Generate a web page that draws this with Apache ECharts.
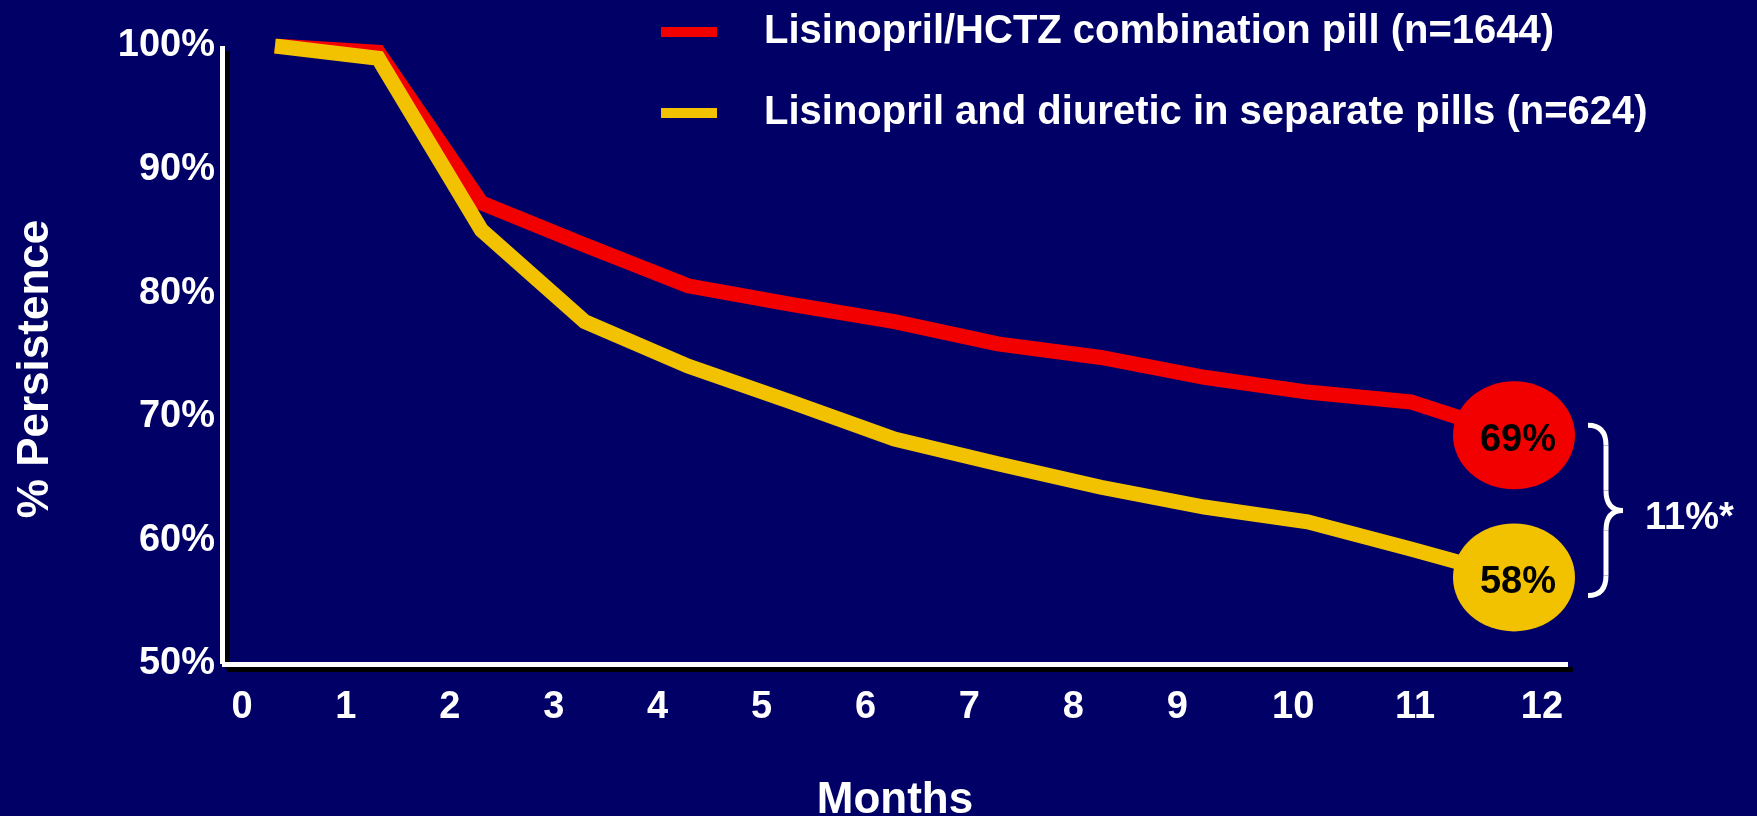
<!DOCTYPE html>
<html>
<head>
<meta charset="utf-8">
<script src="https://cdn.jsdelivr.net/npm/echarts@6/dist/echarts.min.js"></script>
<style>
  html, body { margin: 0; padding: 0; background: #000066; }
  #chart { width: 1757px; height: 816px; }
</style>
</head>
<body>
<div id="chart"></div>
<script>
// ---- data ----
const seriesNames = [
  'Lisinopril/HCTZ combination pill (n=1644)',
  'Lisinopril and diuretic in separate pills (n=624)'
];
const months = [0, 1, 2, 3, 4, 5, 6, 7, 8, 9, 10, 11, 12];
const comboPill = [100, 99.5, 87.3, 83.9, 80.6, 79.1, 77.7, 75.9, 74.8, 73.2, 72.0, 71.2, 68.5];
const separatePills = [100, 99.0, 85.1, 77.7, 74.1, 71.2, 68.2, 66.2, 64.3, 62.7, 61.5, 59.3, 57.0];
const finalPct = [69, 58];
const xTickLabels = ['0', '1', '2', '3', '4', '5', '6', '7', '8', '9', '10', '11', '12'];

// ---- style ----
const FONT = '"Liberation Sans", Arial, Helvetica, sans-serif';
const RED = '#f20000';
const YELLOW = '#f2c200';
const txtShadow = { textShadowColor: '#000', textShadowOffsetX: 3, textShadowOffsetY: 3, textShadowBlur: 0 };
const axisLineStyle = { color: '#fff', width: 5, shadowColor: '#000', shadowOffsetX: 5, shadowOffsetY: 5, shadowBlur: 0, cap: 'butt' };
const baseLabel = Object.assign({ color: '#fff', fontSize: 38, fontWeight: 'bold', fontFamily: FONT }, txtShadow);
const labelNudge = { 10: 24, 11: 60, 12: 106 };
const rich = {};
Object.keys(labelNudge).forEach(k => {
  rich['n' + k] = Object.assign({}, baseLabel, { padding: [0, 0, 0, labelNudge[k]] });
});
const lastIdx = months.length - 1;

const chart = echarts.init(document.getElementById('chart'), null, { renderer: 'canvas' });

function lineSeries(idx, values, color, z) {
  return {
    name: seriesNames[idx],
    type: 'line',
    xAxisIndex: 0,
    yAxisIndex: 0,
    z: z,
    data: months.map((m, i) => [m, values[i]]),
    lineStyle: { color: color, width: 15, cap: 'butt', join: 'miter' },
    itemStyle: { color: color, borderWidth: 0 },
    symbol: 'circle',
    showSymbol: true,
    showAllSymbol: true,
    symbolSize: (v, p) => (p.dataIndex === lastIdx ? [122, 108] : 0),
    label: {
      show: true,
      position: 'inside',
      formatter: p => (p.dataIndex === lastIdx ? finalPct[idx] + '%' : ''),
      color: '#000',
      fontSize: 38,
      fontWeight: 'bold',
      fontFamily: FONT,
      offset: [4, 5]
    },
    emphasis: { disabled: true }
  };
}

chart.setOption({
  backgroundColor: '#000066',
  animation: false,
  grid: [
    { left: 222, right: 189, top: 46, bottom: 152, containLabel: false, outerBoundsMode: 'none' },
    { left: 242, right: 268, top: 46, bottom: 152, containLabel: false, outerBoundsMode: 'none' }
  ],
  legend: {
    orient: 'vertical',
    left: 656,
    top: 5,
    itemWidth: 56,
    itemHeight: 10,
    itemGap: 37,
    icon: 'rect',
    selectedMode: false,
    itemStyle: { borderWidth: 0 },
    textStyle: Object.assign({ color: '#fff', fontSize: 40, fontWeight: 'bold', fontFamily: FONT, lineHeight: 44, padding: [0, 0, 0, 42] }, txtShadow),
    data: seriesNames
  },
  xAxis: [
    {
      gridIndex: 0, type: 'value', min: -0.513, max: 12.523,
      axisLine: { show: true, onZero: false, lineStyle: axisLineStyle },
      axisTick: { show: false }, axisLabel: { show: false }, splitLine: { show: false },
      name: 'Months', nameLocation: 'middle', nameGap: 115,
      nameTextStyle: Object.assign({ color: '#fff', fontSize: 44, fontWeight: 'bold', fontFamily: FONT }, txtShadow)
    },
    {
      gridIndex: 1, type: 'value', min: 0, max: 12, interval: 1,
      axisLine: { show: false }, axisTick: { show: false }, splitLine: { show: false },
      axisLabel: Object.assign({}, baseLabel, {
        margin: 25,
        formatter: v => {
          const i = Math.round(v);
          const t = xTickLabels[i];
          return labelNudge[i] ? '{n' + i + '|' + t + '}' : t;
        },
        rich: rich
      })
    }
  ],
  yAxis: [
    {
      gridIndex: 0, type: 'value', min: 50, max: 100, interval: 10,
      axisLine: { show: true, onZero: false, lineStyle: axisLineStyle },
      axisTick: { show: false }, splitLine: { show: false },
      axisLabel: Object.assign({}, baseLabel, { formatter: '{value}%', margin: 7, padding: [0, 0, 15, 0] }),
      name: '% Persistence', nameLocation: 'middle', nameRotate: 90, nameGap: 164,
      nameTextStyle: Object.assign({ color: '#fff', fontSize: 44, fontWeight: 'bold', fontFamily: FONT, padding: [0, 28, 0, 0] }, txtShadow)
    },
    { gridIndex: 1, type: 'value', min: 50, max: 100, show: false }
  ],
  series: [
    lineSeries(0, comboPill, RED, 2),
    lineSeries(1, separatePills, YELLOW, 3)
  ]
});

// ---- bracket annotation positioned from the data ends ----
const pR = chart.convertToPixel({ seriesIndex: 0 }, [months[lastIdx], comboPill[lastIdx]]);
const pY = chart.convertToPixel({ seriesIndex: 1 }, [months[lastIdx], separatePills[lastIdx]]);
const bTop = pR[1] - 10, bBot = pY[1] + 18, bMid = (bTop + bBot) / 2;
const bx0 = pR[0] + 74, bxs = bx0 + 18, bxt = bx0 + 35, br = 20;
const braceStyle = { stroke: '#fff', lineWidth: 5, fill: null, lineCap: 'butt' };
const braceParts = [
  { type: 'bezierCurve', shape: { x1: bx0, y1: bTop, cpx1: bxs, cpy1: bTop, x2: bxs, y2: bTop + br } },
  { type: 'line', shape: { x1: bxs, y1: bTop + br, x2: bxs, y2: bMid - br } },
  { type: 'bezierCurve', shape: { x1: bxs, y1: bMid - br, cpx1: bxs, cpy1: bMid, x2: bxt, y2: bMid } },
  { type: 'bezierCurve', shape: { x1: bxt, y1: bMid, cpx1: bxs, cpy1: bMid, x2: bxs, y2: bMid + br } },
  { type: 'line', shape: { x1: bxs, y1: bMid + br, x2: bxs, y2: bBot - br } },
  { type: 'bezierCurve', shape: { x1: bxs, y1: bBot - br, cpx1: bxs, cpy1: bBot, x2: bx0, y2: bBot } }
].map(e => Object.assign(e, { style: braceStyle, z: 10, silent: true }));

chart.setOption({
  graphic: braceParts.concat([
    {
      type: 'text', z: 10, silent: true,
      style: Object.assign({
        text: (finalPct[0] - finalPct[1]) + '%*',
        x: bxt + 22, y: bMid + 8,
        fill: '#fff', fontSize: 38, fontWeight: 'bold', fontFamily: FONT,
        align: 'left', verticalAlign: 'middle'
      }, txtShadow)
    }
  ])
});
</script>
</body>
</html>
